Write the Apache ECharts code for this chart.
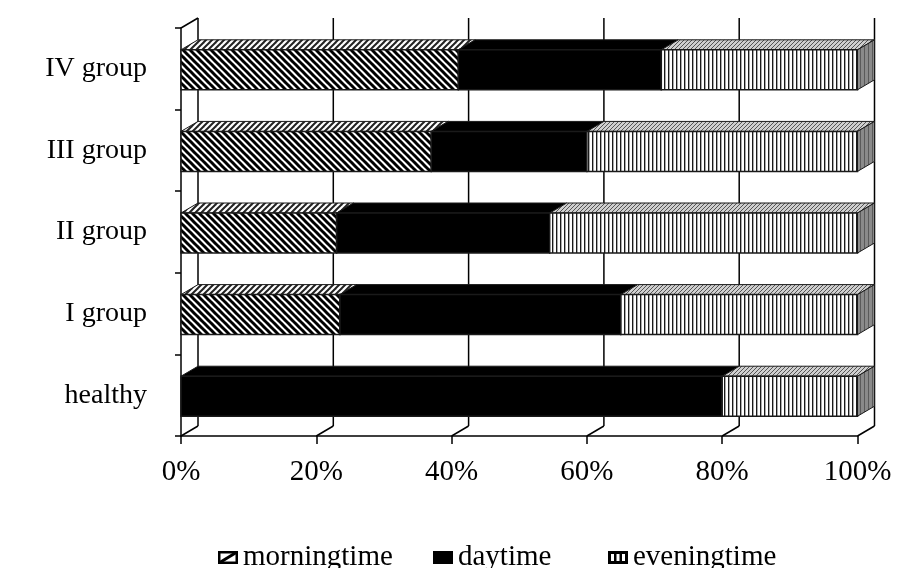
<!DOCTYPE html>
<html>
<head>
<meta charset="utf-8">
<script src="https://cdn.jsdelivr.net/npm/echarts@6/dist/echarts.min.js"></script>
<style>
html,body{margin:0;padding:0;background:#fff;}
#chart{width:900px;height:568px;}
</style>
</head>
<body>
<div id="chart"></div>
<script>
// ---- data ----
const categories = ['healthy', 'I group', 'II group', 'III group', 'IV group'];
const morningtime = [0, 23.5, 23, 37, 41];
const daytime = [80, 41.5, 31.5, 23, 30];
const eveningtime = [20, 35, 45.5, 40, 29];
const seriesNames = ['morningtime', 'daytime', 'eveningtime'];
const xTicks = [0, 20, 40, 60, 80, 100];

// ---- style constants ----
const DX = 17, DY = -10;
const FONT = '"Liberation Serif", "Times New Roman", serif';
const legendLefts = [213, 428, 603];

function makePattern(size, draw) {
  const c = document.createElement('canvas');
  c.width = size[0]; c.height = size[1];
  const ctx = c.getContext('2d');
  draw(ctx, size[0], size[1]);
  return { image: c, repeat: 'repeat' };
}
function diag(ctx, w, h, dir, color, lw, bg) {
  ctx.fillStyle = bg; ctx.fillRect(0, 0, w, h);
  ctx.strokeStyle = color; ctx.lineWidth = lw;
  for (let k = -w; k <= w; k += w) {
    ctx.beginPath();
    if (dir === '\\') { ctx.moveTo(k - 1, -1); ctx.lineTo(k + w + 1, h + 1); }
    else { ctx.moveTo(k - 1, h + 1); ctx.lineTo(k + w + 1, -1); }
    ctx.stroke();
  }
}
const morningFront = makePattern([7, 7], (c, w, h) => diag(c, w, h, '\\', '#000', 3, '#fff'));
const morningTop = makePattern([6, 6], (c, w, h) => diag(c, w, h, '/', '#222', 2, '#fff'));
const eveningFront = makePattern([4, 4], (c, w, h) => {
  c.fillStyle = '#fff'; c.fillRect(0, 0, w, h);
  c.fillStyle = '#1a1a1a'; c.fillRect(0, 0, 1, h);
  c.fillStyle = '#aaa'; c.fillRect(1, 0, 1, h);
});
const eveningTop = makePattern([4, 4], (c, w, h) => diag(c, w, h, '/', '#555', 1, '#cfcfcf'));
const eveningSide = makePattern([4, 4], (c, w, h) => {
  c.fillStyle = '#8a8a8a'; c.fillRect(0, 0, w, h);
  c.fillStyle = '#5a5a5a'; c.fillRect(0, 0, 1, h);
});

const faceStyles = {
  morningtime: { front: morningFront, top: morningTop, side: '#666' },
  daytime: { front: '#000', top: '#000', side: '#000' },
  eveningtime: { front: eveningFront, top: eveningTop, side: eveningSide }
};

function iconURL(kind) {
  const c = document.createElement('canvas');
  c.width = 20; c.height = 13;
  const ctx = c.getContext('2d');
  if (kind === 'daytime') {
    ctx.fillStyle = '#000'; ctx.fillRect(0, 0, 20, 13);
  } else if (kind === 'morningtime') {
    ctx.fillStyle = '#fff'; ctx.fillRect(0, 0, 20, 13);
    ctx.strokeStyle = '#000'; ctx.lineWidth = 2.5;
    ctx.strokeRect(1.25, 1.25, 17.5, 10.5);
    ctx.beginPath(); ctx.moveTo(1, 12); ctx.lineTo(19, 1); ctx.lineWidth = 3; ctx.stroke();
  } else {
    ctx.fillStyle = '#000'; ctx.fillRect(0, 0, 20, 13);
    ctx.fillStyle = '#fff';
    ctx.fillRect(3, 3, 3, 7); ctx.fillRect(8.5, 3, 3, 7); ctx.fillRect(14, 3, 3, 7);
  }
  return 'image://' + c.toDataURL();
}

const valueLists = [morningtime, daytime, eveningtime];
function buildSeriesData(idx) {
  return categories.map((cat, i) => {
    let start = 0;
    for (let k = 0; k < idx; k++) start += valueLists[k][i];
    return [start, start + valueLists[idx][i], i];
  });
}

function barRender(name) {
  const fs = faceStyles[name];
  return function (params, api) {
    const s = api.value(0), e = api.value(1), cat = api.value(2);
    if (e - s <= 0) return;
    const p0 = api.coord([s, cat]);
    const p1 = api.coord([e, cat]);
    const band = api.size([0, 1])[1];
    const h = band * 0.49;
    const cy = p0[1] + 1;
    const top = cy - h / 2, bot = cy + h / 2;
    const x0 = p0[0], x1 = p1[0];
    const stroke = '#1a1a1a';
    const children = [
      { type: 'polygon', shape: { points: [[x0, top], [x1, top], [x1 + DX, top + DY], [x0 + DX, top + DY]] },
        style: { fill: fs.top, stroke: stroke, lineWidth: 1 } },
      { type: 'rect', shape: { x: x0, y: top, width: x1 - x0, height: h },
        style: { fill: fs.front, stroke: stroke, lineWidth: 1.5 } }
    ];
    if (e >= 99.99) {
      children.push({ type: 'polygon', shape: { points: [[x1, top], [x1 + DX, top + DY], [x1 + DX, bot + DY], [x1, bot]] },
        style: { fill: fs.side, stroke: stroke, lineWidth: 1 } });
    }
    return { type: 'group', children: children };
  };
}

function wallRender(params, api) {
  const v = api.value(0);
  const cs = params.coordSys;
  const x = api.coord([v, 0])[0];
  const topY = cs.y, botY = cs.y + cs.height;
  const ls = { stroke: '#000', lineWidth: 1.5 };
  const children = [
    { type: 'line', shape: { x1: x + DX, y1: topY + DY, x2: x + DX, y2: botY + DY }, style: ls },
    { type: 'line', shape: { x1: x, y1: botY, x2: x + DX, y2: botY + DY }, style: ls }
  ];
  if (v === xTicks[0]) {
    children.push({ type: 'line', shape: { x1: x, y1: topY, x2: x + DX, y2: topY + DY }, style: ls });
  }
  return { type: 'group', children: children };
}

const chart = echarts.init(document.getElementById('chart'), null, { renderer: 'canvas' });

const series = [{
  name: 'wall', type: 'custom', z: 1, silent: true,
  renderItem: wallRender,
  encode: { x: 0, y: 1 },
  data: xTicks.map(v => [v, 0])
}];
seriesNames.forEach((n, idx) => {
  series.push({
    name: n, type: 'custom', z: 2,
    renderItem: barRender(n),
    itemStyle: { color: n === 'daytime' ? '#000' : '#888' },
    encode: { x: [0, 1], y: 2 },
    data: buildSeriesData(idx)
  });
});

chart.setOption({
  animation: false,
  backgroundColor: '#fff',
  grid: { left: 181, right: 42.5, top: 28, bottom: 132, containLabel: false },
  xAxis: {
    type: 'value', min: 0, max: 100, interval: 20,
    axisLine: { show: true, lineStyle: { color: '#000', width: 1.5 } },
    axisTick: { show: true, length: 8, lineStyle: { color: '#000', width: 1.5 } },
    splitLine: { show: false },
    axisLabel: { formatter: '{value}%', color: '#000', fontFamily: FONT, fontSize: 29, margin: 22 }
  },
  yAxis: {
    type: 'category', data: categories,
    axisLine: { show: true, lineStyle: { color: '#000', width: 1.5 } },
    axisTick: { show: true, length: 6, lineStyle: { color: '#000', width: 1.5 } },
    splitLine: { show: false },
    axisLabel: { color: '#000', fontFamily: FONT, fontSize: 28, margin: 34 }
  },
  legend: seriesNames.map((n, i) => ({
    data: [{ name: n, icon: iconURL(n) }],
    left: legendLefts[i], top: 538,
    itemWidth: 20, itemHeight: 13,
    textStyle: { color: '#000', fontFamily: FONT, fontSize: 29 },
    selectedMode: false
  })),
  series: series
});
</script>
</body>
</html>
